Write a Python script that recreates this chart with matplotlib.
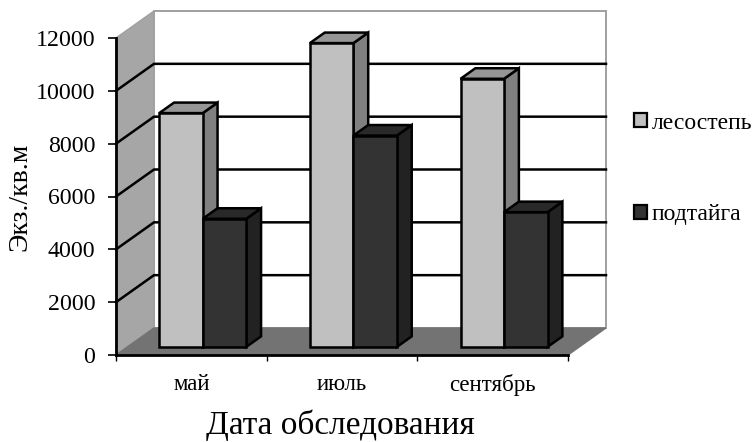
import matplotlib
matplotlib.use("Agg")
import matplotlib.pyplot as plt
from matplotlib.patches import Polygon, Patch

categories = ["май", "июль", "сентябрь"]
series_names = ["лесостепь", "подтайга"]
forest_steppe = [8850, 11500, 10150]
subtaiga = [4850, 8000, 5100]
y_ticks = [0, 2000, 4000, 6000, 8000, 10000, 12000]

plt.rcParams["font.family"] = ["Liberation Serif", "DejaVu Serif"]
W, H = 753, 442
fig = plt.figure(figsize=(W / 100, H / 100), dpi=100)
L, R, B, T = 116, 568, 355, 38
ax = fig.add_axes([L / W, 1 - B / H, (R - L) / W, (B - T) / H])
ax.set_xlim(0, 3)
ax.set_ylim(0, 12000)
ax.patch.set_visible(False)

DX = 38 / ((R - L) / 3)      # depth shift in category units
DV = 27 * 12000 / (B - T)    # depth shift in value units


def P(x, v, d=0.0):
    return (x + d * DX, v + d * DV)


def poly(pts, fc, ec="black", lw=1.8, z=2):
    ax.add_patch(Polygon(pts, closed=True, fc=fc, ec=ec, lw=lw, zorder=z,
                         clip_on=False, joinstyle="miter"))


# walls and floor
poly([P(0, 0), P(0, 0, 1), P(0, 12000, 1), P(0, 12000)], "#a6a6a6", ec="#a0a0a0", lw=1)
poly([P(0, 0, 1), P(3, 0, 1), P(3, 12000, 1), P(0, 12000, 1)], "white", ec="#a0a0a0", lw=1.4)
poly([P(0, 0), P(3, 0), P(3, 0, 1), P(0, 0, 1)], "#737373", ec="#737373", lw=1)

# gridlines
for v in y_ticks[1:-1]:
    a, b, c = P(0, v), P(0, v, 1), P(3, v, 1)
    ax.plot([a[0], b[0], c[0]], [a[1], b[1], c[1]], color="black", lw=1.8,
            zorder=3, clip_on=False, solid_joinstyle="miter")

# bars
BW = 43.5 / ((R - L) / 3)
D0, D1 = 0.30, 0.69


def bar3d(x0, v, front, top, side, z):
    x1 = x0 + BW
    poly([P(x1, 0, D0), P(x1, 0, D1), P(x1, v, D1), P(x1, v, D0)], side, z=z)
    poly([P(x0, v, D0), P(x1, v, D0), P(x1, v, D1), P(x0, v, D1)], top, z=z)
    poly([P(x0, 0, D0), P(x1, 0, D0), P(x1, v, D0), P(x0, v, D0)], front, z=z)


for i in range(len(categories)):
    c = i + 0.5
    bar3d(c - BW, forest_steppe[i], "#c0c0c0", "#969696", "#808080", 4 + i * 2)
    bar3d(c, subtaiga[i], "#333333", "#292929", "#222222", 5 + i * 2)

# axes
for s in ("top", "right"):
    ax.spines[s].set_visible(False)
for s in ("left", "bottom"):
    ax.spines[s].set_linewidth(2.0)
    ax.spines[s].set_zorder(20)
ax.set_yticks(y_ticks)
ax.set_yticklabels([str(v) for v in y_ticks], fontsize=17.2)
ax.set_xticks([0, 1, 2, 3])
ax.set_xticklabels([])
ax.set_xticks([0.5, 1.5, 2.5], minor=True)
ax.set_xticklabels(categories, minor=True, fontsize=16.5)
ax.tick_params(axis="x", which="minor", length=0, pad=14)
ax.tick_params(axis="x", which="major", length=4, width=1)
ax.tick_params(axis="y", length=6, width=1.2, pad=9)

fig.text(20 / W, 1 - 197 / H, "Экз./кв.м", rotation=90, ha="center", va="center", fontsize=20)
fig.text(340 / W, 1 - 425 / H, "Дата обследования", ha="center", va="center", fontsize=24)

handles = [Patch(fc="#c0c0c0", ec="black", lw=1.6), Patch(fc="#333333", ec="black", lw=1.6)]
ax.legend(handles, series_names, loc="center left",
          bbox_to_anchor=(634 / W, 1 - 169 / H), bbox_transform=fig.transFigure,
          frameon=False, fontsize=17, handlelength=0.55, handleheight=0.55,
          handletextpad=0.2, labelspacing=3.0, borderpad=0, borderaxespad=0)

fig.savefig("out.png", dpi=100)
